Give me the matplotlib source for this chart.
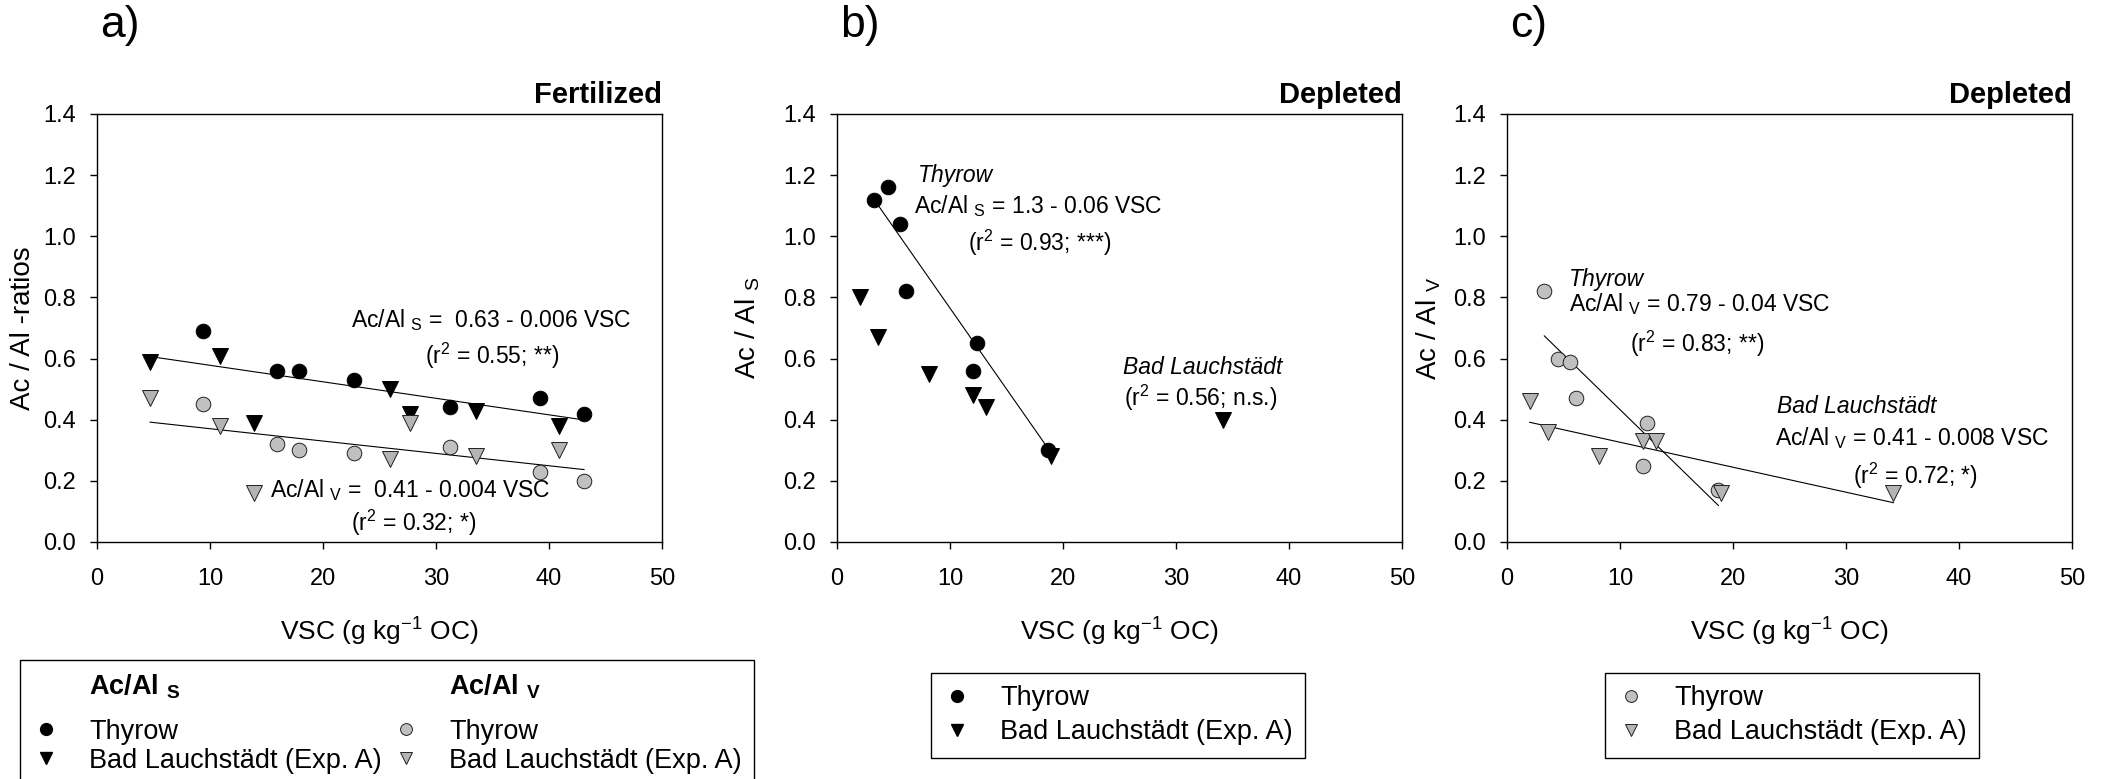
import matplotlib.pyplot as plt
from matplotlib.lines import Line2D

plt.rcParams['font.family'] = 'Liberation Sans'
plt.rcParams['mathtext.fontset'] = 'custom'
plt.rcParams['mathtext.rm'] = 'Liberation Sans'
plt.rcParams['mathtext.it'] = 'Liberation Sans:italic'
plt.rcParams['mathtext.bf'] = 'Liberation Sans:bold'
plt.rcParams['mathtext.default'] = 'regular'

# a) fertilized plots
fert_thy_vsc = [9.4, 15.9, 17.9, 22.7, 31.2, 39.2, 43.1]
fert_thy_s = [0.69, 0.56, 0.56, 0.53, 0.44, 0.47, 0.42]
fert_thy_v = [0.45, 0.32, 0.30, 0.29, 0.31, 0.23, 0.20]
fert_bl_vsc = [4.7, 10.9, 13.9, 25.9, 27.7, 33.5, 40.9]
fert_bl_s = [0.59, 0.61, 0.39, 0.50, 0.42, 0.43, 0.38]
fert_bl_v = [0.47, 0.38, 0.16, 0.27, 0.39, 0.28, 0.30]

# b) / c) depleted plots
depl_thy_vsc = [3.3, 4.55, 5.6, 6.1, 12.05, 12.4, 18.7]
depl_thy_s = [1.12, 1.16, 1.04, 0.82, 0.56, 0.65, 0.30]
depl_thy_v = [0.82, 0.60, 0.59, 0.47, 0.25, 0.39, 0.17]
depl_bl_vsc = [2.0, 3.65, 8.15, 12.05, 13.15, 18.9, 34.2]
depl_bl_s = [0.80, 0.67, 0.55, 0.48, 0.44, 0.28, 0.40]
depl_bl_v = [0.46, 0.36, 0.28, 0.33, 0.33, 0.16, 0.16]

# regression lines (intercept, slope) as drawn
fit_fert_s = (0.632, -0.0054)
fit_fert_v = (0.411, -0.00404)
fit_depl_thy_s = (1.294, -0.0529)
fit_depl_thy_v = (0.793, -0.036)
fit_depl_bl_v = (0.408, -0.00817)

W, H = 2109, 779
fig = plt.figure(figsize=(W / 100, H / 100), dpi=100)

ax_w = 565 / W
ax_h = 428 / H
ax_b = (H - 542) / H
axa = fig.add_axes([97 / W, ax_b, ax_w, ax_h])
axb = fig.add_axes([837 / W, ax_b, ax_w, ax_h])
axc = fig.add_axes([1507 / W, ax_b, ax_w, ax_h])

black_c = dict(marker='o', ms=10.5, mfc='black', mec='black', mew=0.7, ls='none')
black_t = dict(marker='v', ms=11.5, mfc='black', mec='black', mew=0.7, ls='none')
grey_c = dict(marker='o', ms=10.5, mfc='#c0c0c0', mec='#202020', mew=0.7, ls='none')
grey_t = dict(marker='v', ms=11.5, mfc='#b4b4b4', mec='#202020', mew=0.7, ls='none')


def fit_line(ax, xs, fit):
    x0, x1 = min(xs), max(xs)
    ax.plot([x0, x1], [fit[0] + fit[1] * x0, fit[0] + fit[1] * x1],
            color='black', lw=0.8, zorder=1)


for ax in (axa, axb, axc):
    ax.set_xlim(0, 50)
    ax.set_ylim(0, 1.4)
    ax.set_xticks(range(0, 51, 10))
    ax.set_yticks([0, 0.2, 0.4, 0.6, 0.8, 1.0, 1.2, 1.4])
    ax.set_yticklabels(['%.1f' % v for v in ax.get_yticks()])
    ax.tick_params(axis='x', direction='out', length=5, width=1, labelsize=17, pad=14)
    ax.tick_params(axis='y', direction='out', length=5, width=1, labelsize=17, pad=10)
    for sp in ax.spines.values():
        sp.set_linewidth(1.0)
    ax.set_xlabel('VSC (g kg$^{-1}$ OC)', fontsize=19, labelpad=18)

fs = 16.5

# panel a
fit_line(axa, fert_bl_vsc + fert_thy_vsc, fit_fert_s)
fit_line(axa, fert_bl_vsc + fert_thy_vsc, fit_fert_v)
axa.plot(fert_thy_vsc, fert_thy_s, **black_c)
axa.plot(fert_bl_vsc, fert_bl_s, **black_t)
axa.plot(fert_thy_vsc, fert_thy_v, **grey_c)
axa.plot(fert_bl_vsc, fert_bl_v, **grey_t)
axa.set_ylabel('Ac / Al -ratios', fontsize=20)
axa.yaxis.set_label_coords(-0.108, 0.5)
axa.text(22.5, 0.725, 'Ac/Al $_S$ =  0.63 - 0.006 VSC', fontsize=fs, va='center')
axa.text(29.0, 0.608, '(r$^2$ = 0.55; **)', fontsize=fs, va='center')
axa.text(15.3, 0.17, 'Ac/Al $_V$ =  0.41 - 0.004 VSC', fontsize=fs, va='center')
axa.text(22.5, 0.064, '(r$^2$ = 0.32; *)', fontsize=fs, va='center')

# panel b
fit_line(axb, depl_thy_vsc, fit_depl_thy_s)
axb.plot(depl_thy_vsc, depl_thy_s, **black_c)
axb.plot(depl_bl_vsc, depl_bl_s, **black_t)
axb.set_ylabel('Ac / Al $_S$', fontsize=20)
axb.yaxis.set_label_coords(-0.133, 0.5)
axb.text(7.2, 1.2, 'Thyrow', fontsize=fs, style='italic', va='center')
axb.text(6.84, 1.10, 'Ac/Al $_S$ = 1.3 - 0.06 VSC', fontsize=fs, va='center')
axb.text(11.6, 0.978, '(r$^2$ = 0.93; ***)', fontsize=fs, va='center')
axb.text(25.3, 0.57, 'Bad Lauchstädt', fontsize=fs, style='italic', va='center')
axb.text(25.4, 0.47, '(r$^2$ = 0.56; n.s.)', fontsize=fs, va='center')

# panel c
fit_line(axc, depl_thy_vsc, fit_depl_thy_v)
fit_line(axc, depl_bl_vsc, fit_depl_bl_v)
axc.plot(depl_thy_vsc, depl_thy_v, **grey_c)
axc.plot(depl_bl_vsc, depl_bl_v, **grey_t)
axc.set_ylabel('Ac / Al $_V$', fontsize=20)
axc.yaxis.set_label_coords(-0.113, 0.5)
axc.text(5.5, 0.86, 'Thyrow', fontsize=fs, style='italic', va='center')
axc.text(5.5, 0.778, 'Ac/Al $_V$ = 0.79 - 0.04 VSC', fontsize=fs, va='center')
axc.text(10.9, 0.649, '(r$^2$ = 0.83; **)', fontsize=fs, va='center')
axc.text(23.9, 0.444, 'Bad Lauchstädt', fontsize=fs, style='italic', va='center')
axc.text(23.7, 0.339, 'Ac/Al $_V$ = 0.41 - 0.008 VSC', fontsize=fs, va='center')
axc.text(30.6, 0.216, '(r$^2$ = 0.72; *)', fontsize=fs, va='center')

# titles and panel letters
for ax, title, letter in ((axa, 'Fertilized', 'a)'), (axb, 'Depleted', 'b)'), (axc, 'Depleted', 'c)')):
    ax.text(1.0, 1.025, title, transform=ax.transAxes, ha='right', va='baseline',
            fontsize=21, fontweight='bold')
    x0 = ax.get_position().x0
    fig.text(x0 + 3 / W, 1 - 26 / H, letter, fontsize=32, ha='left', va='center')

# legends
h_thy_s = Line2D([], [], marker='o', ms=8.5, mfc='black', mec='black', ls='none')
h_bl_s = Line2D([], [], marker='v', ms=8.5, mfc='black', mec='black', ls='none')
h_thy_v = Line2D([], [], marker='o', ms=8.5, mfc='#c0c0c0', mec='#202020', mew=0.7, ls='none')
h_bl_v = Line2D([], [], marker='v', ms=8.5, mfc='#b4b4b4', mec='#202020', mew=0.7, ls='none')
h_none = Line2D([], [], ls='none')

leg_kw = dict(loc='upper left', borderaxespad=0, frameon=True, fancybox=False,
              edgecolor='black', framealpha=1, prop={'size': 19.5}, handlelength=1.0,
              handletextpad=1.1)

lab_thy = 'Thyrow'
lab_bl = 'Bad Lauchstädt (Exp. A)'
leg_a = fig.legend([h_none, h_thy_s, h_bl_s, h_none, h_thy_v, h_bl_v],
                   ['Ac/Al $_S$\n', lab_thy, lab_bl, 'Ac/Al $_V$\n', lab_thy, lab_bl],
                   ncol=2, columnspacing=0.4, borderpad=0.45, labelspacing=0.1,
                   bbox_to_anchor=(20 / W, 1 - 660 / H), **leg_kw)
for i in (0, 3):
    leg_a.get_texts()[i].set_fontweight('bold')
    leg_a.get_texts()[i].set_linespacing(0.47)
leg_a.get_frame().set_linewidth(1.0)

leg_b = fig.legend([h_thy_s, h_bl_s], [lab_thy, lab_bl], borderpad=0.45, labelspacing=0.3,
                   bbox_to_anchor=(931 / W, 1 - 673 / H), **leg_kw)
leg_b.get_frame().set_linewidth(1.0)
leg_c = fig.legend([h_thy_v, h_bl_v], [lab_thy, lab_bl], borderpad=0.45, labelspacing=0.3,
                   bbox_to_anchor=(1605 / W, 1 - 673 / H), **leg_kw)
leg_c.get_frame().set_linewidth(1.0)

fig.savefig('out.png', dpi=100)
plt.close(fig)
